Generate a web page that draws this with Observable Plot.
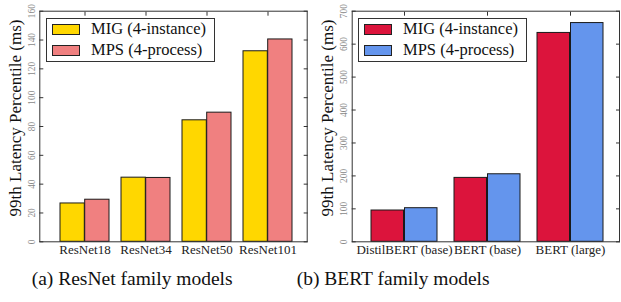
<!DOCTYPE html>
<html>
<head>
<meta charset="utf-8">
<script src="https://cdn.jsdelivr.net/npm/d3@7"></script>
<script src="https://cdn.jsdelivr.net/npm/@observablehq/plot@0.6"></script>
<style>
  html, body { margin: 0; padding: 0; background: #fff; }
  #root { position: relative; width: 621px; height: 302px; overflow: hidden; font-family: "Liberation Serif", serif; }
  .panel { position: absolute; top: 0; }
  .legend { position: absolute; top: 18px; width: 167px; height: 42px; border: 1px solid #333; background: #fff; }
  .legend .sw { position: absolute; width: 26px; height: 9px; border: 1px solid #222; }
  .legend .lab { position: absolute; left: 44px; font-size: 16.5px; line-height: 16px; color: #111; white-space: nowrap; }
  .ytitle { position: absolute; font-size: 17px; color: #111; white-space: nowrap; transform: translate(-50%, -50%) rotate(-90deg); line-height: 1; }
  .caption { position: absolute; top: 268px; font-family: "Liberation Serif", serif; font-size: 19.5px; color: #111; white-space: nowrap; }
</style>
</head>
<body>
<div id="root"></div>
<script>
// ---- data ----
const resnetModels = ["ResNet18", "ResNet34", "ResNet50", "ResNet101"];
const resnetMIG = [26.6, 44.5, 84.3, 132.2];
const resnetMPS = [29.2, 44.3, 89.6, 140.4];
const resnetTicks = [0, 20, 40, 60, 80, 100, 120, 140, 160];

const bertModels = ["DistilBERT (base)", "BERT (base)", "BERT (large)"];
const bertMIG = [95, 194, 634];
const bertMPS = [102, 205, 664];
const bertTicks = [0, 100, 200, 300, 400, 500, 600, 700];

const seriesNames = ["MIG (4-instance)", "MPS (4-process)"];
const yTitle = "99th Latency Percentile (ms)";
const captions = ["(a) ResNet family models", "(b) BERT family models"];

const root = document.getElementById("root");

function panel({left, width, marginLeft, marginRight, models, mig, mps, ticks, colors, paddingOuter, align, half}) {
  const migData = models.map((m, i) => ({model: m, value: mig[i]}));
  const mpsData = models.map((m, i) => ({model: m, value: mps[i]}));
  const chart = Plot.plot({
    width, height: 262,
    marginTop: 10.7, marginBottom: 20.7, marginLeft, marginRight,
    style: {fontFamily: "Liberation Serif", background: "transparent", overflow: "visible"},
    x: {type: "band", domain: models, paddingInner: 0.2, paddingOuter, align},
    y: {domain: [ticks[0], ticks[ticks.length - 1]]},
    marks: [
      Plot.barY(migData, {x: "model", y: "value", fill: colors[0], stroke: "#1a1a1a", strokeWidth: 1, insetRight: half}),
      Plot.barY(mpsData, {x: "model", y: "value", fill: colors[1], stroke: "#1a1a1a", strokeWidth: 1, insetLeft: half}),
      Plot.axisY(ticks, {anchor: "left", tickSize: 0, tickPadding: 5, tickRotate: -90, fontSize: 9.3, fill: "#888", label: null}),
      Plot.axisY(ticks, {anchor: "left", tickSize: -4, tickFormat: () => "", label: null, stroke: "#333"}),
      Plot.axisY(ticks, {anchor: "right", tickSize: -4, tickFormat: () => "", label: null, stroke: "#333"}),
      Plot.axisX(models, {anchor: "top", tickSize: -4, tickFormat: () => "", label: null, stroke: "#333"}),
      Plot.axisX(models, {anchor: "bottom", tickSize: 0, tickPadding: 3, fontSize: 13, fill: "#222", label: null}),
      Plot.frame({stroke: "#333", strokeWidth: 1})
    ]
  });
  chart.classList.add("panel");
  chart.style.left = left + "px";
  root.appendChild(chart);
}

panel({left: 0, width: 310, marginLeft: 39.3, marginRight: 3.3, models: resnetModels, mig: resnetMIG, mps: resnetMPS,
  ticks: resnetTicks, colors: ["#FFD700", "#F08080"], paddingOuter: 0.263, align: 0.58, half: 24.7});
panel({left: 310, width: 311, marginLeft: 41.7, marginRight: 2, models: bertModels, mig: bertMIG, mps: bertMPS,
  ticks: bertTicks, colors: ["#DC143C", "#6495ED"], paddingOuter: 0.197, align: 0.556, half: 33.5});

function title(cx, cy) {
  const d = document.createElement("div");
  d.className = "ytitle";
  d.style.left = cx + "px";
  d.style.top = cy + "px";
  d.textContent = yTitle;
  root.appendChild(d);
}
title(15, 118);
title(327, 118);

function legend(left, colors) {
  const box = document.createElement("div");
  box.className = "legend";
  box.style.left = left + "px";
  seriesNames.forEach((name, i) => {
    const sw = document.createElement("div");
    sw.className = "sw";
    sw.style.left = "5px";
    sw.style.top = (5 + i * 21) + "px";
    sw.style.background = colors[i];
    const lab = document.createElement("div");
    lab.className = "lab";
    lab.style.top = (2 + i * 21) + "px";
    lab.textContent = name;
    box.appendChild(sw);
    box.appendChild(lab);
  });
  root.appendChild(box);
}
legend(46, ["#FFD700", "#F08080"]);
legend(358, ["#DC143C", "#6495ED"]);

captions.forEach((c, i) => {
  const d = document.createElement("div");
  d.className = "caption";
  d.style.left = (i === 0 ? 31.7 : 296.7) + "px";
  d.textContent = c;
  root.appendChild(d);
});
</script>
</body>
</html>
